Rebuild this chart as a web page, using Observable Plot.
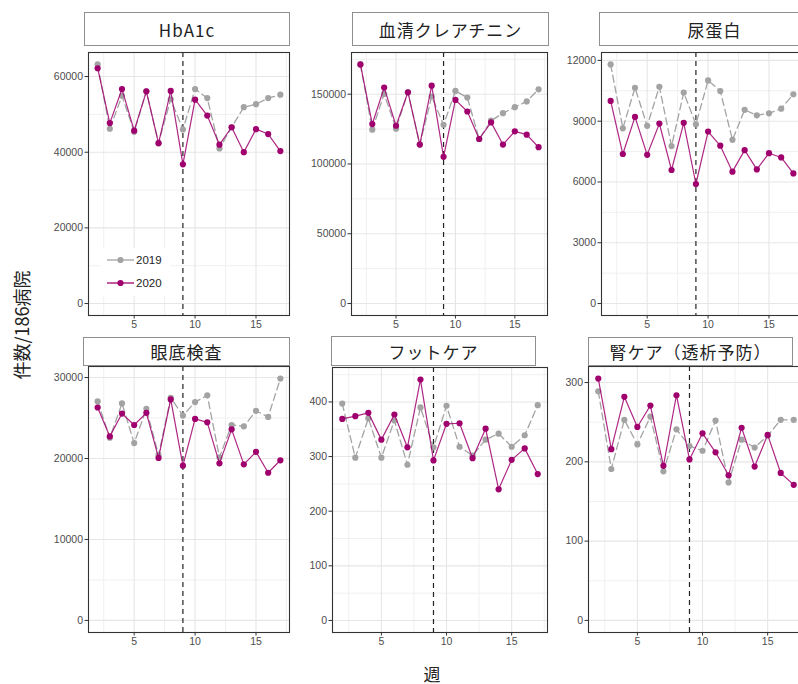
<!DOCTYPE html>
<html>
<head>
<meta charset="utf-8">
<script src="https://cdn.jsdelivr.net/npm/d3@7"></script>
<script src="https://cdn.jsdelivr.net/npm/@observablehq/plot@0.6"></script>
<style>
  html, body { margin: 0; padding: 0; background: #fff; }
  #wrap { position: relative; width: 798px; height: 684px; overflow: hidden; background: #fff;
          font-family: "Noto Sans CJK JP", "Noto Sans", sans-serif; }
  .strip { position: absolute; box-sizing: border-box; border: 1px solid #8f8f8f; background: #fff;
           display: flex; align-items: center; justify-content: center; font-size: 17px; color: #222;
           letter-spacing: 1px; }
  .panel { position: absolute; background: transparent; }
  .title { position: absolute; color: #222; line-height: 1; }
</style>
</head>
<body>
<div id="wrap"></div>
<script>
// ---- data ----
const weeks = [2,3,4,5,6,7,8,9,10,11,12,13,14,15,16,17];
const years = ["2019", "2020"];
const panelNames = ["HbA1c", "血清クレアチニン", "尿蛋白", "眼底検査", "フットケア", "腎ケア（透析予防）"];

const hba1c2019 = [63200,46200,54900,45400,56100,42400,54000,46000,56700,54300,41000,46600,51900,52700,54300,55200];
const hba1c2020 = [62200,47700,56700,45700,56100,42400,56200,36800,53900,49700,42000,46600,40000,46100,44800,40300];
const cre2019 = [171300,124600,150200,125300,151400,113900,148300,128100,152300,147600,117900,131000,136400,140700,144800,153500];
const cre2020 = [171300,128600,154700,127400,151400,113900,156100,105100,145900,137600,117900,129800,113900,123400,121000,112000];
const prot2019 = [11800,8650,10650,8770,10700,7770,10410,8850,11010,10490,8080,9560,9290,9390,9620,10330];
const prot2020 = [10000,7380,9210,7340,8880,6590,8920,5900,8490,7790,6510,7570,6620,7420,7210,6420];
const eye2019 = [27050,22560,26800,21900,26130,20440,27500,25300,26970,27800,20150,24140,23970,25890,25140,29870];
const eye2020 = [26300,22730,25550,24140,25640,20070,27300,19110,24890,24470,19400,23600,19280,20820,18240,19780];
const foot2019 = [397,298,370,298,366,285,390,317,393,318,302,331,342,318,339,394];
const foot2020 = [369,374,380,331,377,317,441,293,360,361,297,351,240,294,315,268];
const kid2019 = [289,191,253,222,257,188,241,220,214,252,174,228,218,233,253,253];
const kid2020 = [305,216,282,244,271,195,284,203,236,212,183,243,194,234,186,171];

const xTicks = [5, 10, 15];
const xMinor = [2.5, 7.5, 12.5, 17.5];
const cutWeek = 9;
const yTicks = [
  [0, 20000, 40000, 60000],
  [0, 50000, 100000, 150000],
  [0, 3000, 6000, 9000, 12000],
  [0, 10000, 20000, 30000],
  [0, 100, 200, 300, 400],
  [0, 100, 200, 300]
];
const series = [
  [hba1c2019, hba1c2020],
  [cre2019, cre2020],
  [prot2019, prot2020],
  [eye2019, eye2020],
  [foot2019, foot2020],
  [kid2019, kid2020]
];

// ---- layout (frame positions in page px) ----
const frames = [
  {l: 88,  t: 52, r: 289, b: 315},
  {l: 351, t: 52, r: 547, b: 315},
  {l: 601, t: 52, r: 802, b: 315},
  {l: 88,  t: 366, r: 289, b: 632},
  {l: 332, t: 367, r: 547, b: 632},
  {l: 588, t: 366, r: 803, b: 632}
];
const strips = [
  {l: 84,  t: 12, r: 290, b: 46},
  {l: 352, t: 12, r: 549, b: 46},
  {l: 599, t: 12, r: 830, b: 46},
  {l: 83,  t: 337, r: 290, b: 366},
  {l: 331, t: 336, r: 536, b: 366},
  {l: 588, t: 337, r: 793, b: 366}
];

const col19 = "#a3a3a3";
const col20 = "#a0006e";

const wrap = document.getElementById("wrap");
const ml = 60, mr = 6, mt = 4, mb = 26;

series.forEach((pair, i) => {
  const f = frames[i];
  const d19 = weeks.map((w, k) => ({week: w, v: pair[0][k]}));
  const d20 = weeks.map((w, k) => ({week: w, v: pair[1][k]}));
  const maxV = d3.max([...pair[0], ...pair[1]]);
  const pad = maxV * 0.05;
  const ticks = yTicks[i];
  const step = ticks[1] - ticks[0];
  const yMinor = ticks.map(t => t + step / 2).filter(t => t < maxV + pad);

  const chart = Plot.plot({
    width: (f.r - f.l) + ml + mr,
    height: (f.b - f.t) + mt + mb,
    marginLeft: ml, marginRight: mr, marginTop: mt, marginBottom: mb,
    x: {domain: [1.25, 17.75]},
    y: {domain: [-pad, maxV + pad]},
    style: {fontFamily: "Liberation Sans, Arial, sans-serif", fontSize: "10.5px", color: "#4d4d4d", background: "transparent", overflow: "visible"},
    marks: [
      Plot.frame({fill: "white", stroke: "none"}),
      Plot.ruleX(xMinor, {stroke: "#f0f0f0", strokeWidth: 1}),
      Plot.ruleY(yMinor, {stroke: "#f0f0f0", strokeWidth: 1}),
      Plot.ruleX(xTicks, {stroke: "#e6e6e6", strokeWidth: 1.1}),
      Plot.ruleY(ticks, {stroke: "#e6e6e6", strokeWidth: 1.1}),
      Plot.ruleX([cutWeek], {stroke: "#222", strokeWidth: 1.2, strokeDasharray: "5,4"}),
      Plot.line(d19, {x: "week", y: "v", stroke: col19, strokeWidth: 1.3, strokeDasharray: "7,4"}),
      Plot.dot(d19, {x: "week", y: "v", fill: col19, r: 3.1}),
      Plot.line(d20, {x: "week", y: "v", stroke: col20, strokeWidth: 1.2, strokeOpacity: 0.85}),
      Plot.dot(d20, {x: "week", y: "v", fill: col20, r: 3.1}),
      Plot.frame({stroke: "#333", strokeWidth: 1.1}),
      Plot.axisX({ticks: xTicks, tickSize: 3.5, tickPadding: 2, label: null, stroke: "#333"}),
      Plot.axisY({ticks: ticks, tickSize: 3.5, tickPadding: 2, label: null, stroke: "#333", tickFormat: d => String(d)})
    ]
  });
  chart.classList.add("panel");
  chart.style.left = (f.l - ml) + "px";
  chart.style.top = (f.t - mt) + "px";
  wrap.appendChild(chart);

  const s = strips[i];
  const div = document.createElement("div");
  div.className = "strip";
  div.style.left = s.l + "px";
  div.style.top = s.t + "px";
  div.style.width = (s.r - s.l) + "px";
  div.style.height = (s.b - s.t) + "px";
  div.textContent = panelNames[i];
  wrap.appendChild(div);
});

// legend inside first panel
const ns = "http://www.w3.org/2000/svg";
const leg = document.createElementNS(ns, "svg");
leg.setAttribute("width", 70);
leg.setAttribute("height", 48);
leg.style.position = "absolute";
leg.style.left = "100px";
leg.style.top = "248px";
const bg = document.createElementNS(ns, "rect");
bg.setAttribute("width", 70); bg.setAttribute("height", 48); bg.setAttribute("fill", "white");
leg.appendChild(bg);
[col19, col20].forEach((c, k) => {
  const y = 12 + k * 23;
  const ln = document.createElementNS(ns, "line");
  ln.setAttribute("x1", 7); ln.setAttribute("x2", 34); ln.setAttribute("y1", y); ln.setAttribute("y2", y);
  ln.setAttribute("stroke", c); ln.setAttribute("stroke-width", 1.3);
  leg.appendChild(ln);
  const dt = document.createElementNS(ns, "circle");
  dt.setAttribute("cx", 20.5); dt.setAttribute("cy", y); dt.setAttribute("r", 3.1); dt.setAttribute("fill", c);
  leg.appendChild(dt);
  const tx = document.createElementNS(ns, "text");
  tx.setAttribute("x", 36); tx.setAttribute("y", y + 4);
  tx.setAttribute("font-family", "Liberation Sans, Arial, sans-serif");
  tx.setAttribute("font-size", "11.5px"); tx.setAttribute("fill", "#222");
  tx.textContent = years[k];
  leg.appendChild(tx);
});
wrap.appendChild(leg);

// axis titles
const yt = document.createElement("div");
yt.className = "title";
yt.textContent = "件数/186病院";
yt.style.fontSize = "18px";
yt.style.left = "21px"; yt.style.top = "325px";
yt.style.transform = "translate(-50%, -50%) rotate(-90deg)";
yt.style.whiteSpace = "nowrap";
wrap.appendChild(yt);

const xt = document.createElement("div");
xt.className = "title";
xt.textContent = "週";
xt.style.fontSize = "17px";
xt.style.left = "432px"; xt.style.top = "673px";
xt.style.transform = "translate(-50%, -50%)";
wrap.appendChild(xt);
</script>
</body>
</html>
